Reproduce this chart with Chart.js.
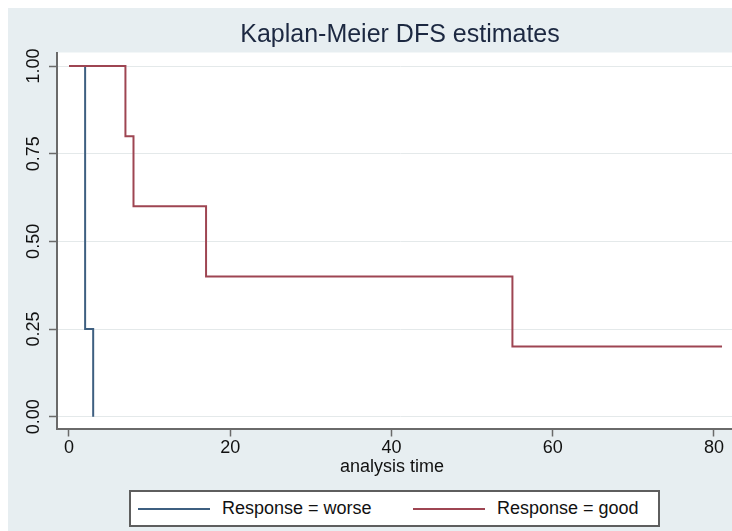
<!DOCTYPE html>
<html><head><meta charset="utf-8">
<script src="https://cdn.jsdelivr.net/npm/chart.js@4.4.1/dist/chart.umd.min.js"></script>
<style>
html,body{margin:0;padding:0;background:#fff;overflow:hidden;width:732px;height:531px;}
#wrap{position:absolute;left:8px;top:8px;width:735px;height:523px;background:#e7eef1;}
canvas{display:block;}
#legend{position:absolute;left:129px;top:490px;width:531px;height:37px;box-sizing:border-box;border:2px solid #5e5e5e;background:#fff;font-family:"Liberation Sans",Arial,Helvetica,sans-serif;font-size:18px;color:#111;}
#legend .item{position:absolute;top:0;height:33px;display:flex;align-items:center;white-space:nowrap;}
#legend .swatch{display:inline-block;width:72px;height:0;border-top:2px solid;margin-right:12px;}
</style></head><body>
<div id="wrap"><canvas id="c" width="735" height="523"></canvas></div>
<div id="legend"></div>
<script>
const titleText = 'Kaplan-Meier DFS estimates';
const xTitle = 'analysis time';
const seriesNames = ['Response = worse', 'Response = good'];
const worseTimes = [0, 2, 3];
const worseSurv = [1, 0.25, 0];
const goodTimes = [0, 7, 8, 17, 55, 81];
const goodSurv = [1, 0.8, 0.6, 0.4, 0.2, 0.2];
const xTickValues = [0, 20, 40, 60, 80];
const yTickValues = [0, 0.25, 0.5, 0.75, 1];

const FONT = '"Liberation Sans", Arial, Helvetica, sans-serif';
Chart.defaults.font.family = FONT;
const AXIS = '#6a6a6a';

const bgPlugin = {
  id: 'bg',
  beforeDraw(chart) {
    const {ctx, chartArea: a} = chart;
    ctx.save();
    ctx.fillStyle = '#e7eef1';
    ctx.fillRect(0, 0, chart.width, chart.height);
    ctx.fillStyle = '#ffffff';
    ctx.fillRect(a.left, a.top, a.right - a.left, a.bottom - a.top);
    ctx.restore();
  }
};

const chart = new Chart(document.getElementById('c'), {
  type: 'line',
  data: {
    datasets: [
      { label: seriesNames[0], data: worseTimes.map((t, i) => ({x: t, y: worseSurv[i]})),
        borderColor: '#3e5f80', borderWidth: 2, stepped: true, pointRadius: 0, fill: false, order: 2 },
      { label: seriesNames[1], data: goodTimes.map((t, i) => ({x: t, y: goodSurv[i]})),
        borderColor: '#9e4552', borderWidth: 2, stepped: true, pointRadius: 0, fill: false, order: 1 }
    ]
  },
  options: {
    responsive: false,
    animation: false,
    devicePixelRatio: 1,
    layout: { padding: { top: 0, left: 0, right: 0, bottom: 53.2 } },
    plugins: {
      legend: { display: false },
      tooltip: { enabled: false },
      title: { display: true, text: titleText, fullSize: false, color: '#1c2841',
               font: { size: 25, weight: 'normal' }, padding: { top: 12, bottom: 2.5 } }
    },
    scales: {
      x: {
        type: 'linear', min: -1.488, max: 83.6,
        afterBuildTicks: s => { s.ticks = xTickValues.map(v => ({value: v})); },
        afterFit: s => {
          s.height = 49.3;
          // centre the axis title over the visible plot region
          s.drawTitle = function () {
            const r = this.right;
            this.right = r - 16;
            Chart.Scale.prototype.drawTitle.call(this);
            this.right = r;
          };
        },
        ticks: { autoSkip: false, maxRotation: 0, padding: 1, color: '#111', font: { size: 18 } },
        grid: { drawOnChartArea: false, drawTicks: true, tickLength: 8, tickColor: AXIS, tickWidth: 1.5 },
        border: { color: AXIS, width: 2 },
        title: { display: true, text: xTitle, color: '#111', font: { size: 18 }, padding: { top: 0, bottom: 0 } }
      },
      y: {
        type: 'linear', min: -0.0336, max: 1.0385,
        afterBuildTicks: s => { s.ticks = yTickValues.map(v => ({value: v})); },
        afterFit: s => { s.width = 49; },
        ticks: { autoSkip: false, minRotation: 90, maxRotation: 90, crossAlign: 'center', padding: -2.7,
                 color: '#111', font: { size: 18 }, callback: v => Number(v).toFixed(2) },
        grid: { color: '#e4e9ea', lineWidth: 1, tickLength: 8, tickColor: AXIS, tickWidth: 1.5 },
        border: { color: AXIS, width: 2 }
      }
    }
  },
  plugins: [bgPlugin]
});

// HTML legend built from the chart's datasets
const legendEl = document.getElementById('legend');
const itemLefts = [7, 282];
chart.data.datasets.forEach((ds, i) => {
  const item = document.createElement('div');
  item.className = 'item';
  item.style.left = itemLefts[i] + 'px';
  const sw = document.createElement('span');
  sw.className = 'swatch';
  sw.style.borderTopColor = ds.borderColor;
  const tx = document.createElement('span');
  tx.textContent = ds.label;
  item.appendChild(sw);
  item.appendChild(tx);
  legendEl.appendChild(item);
});
</script>
</body></html>
